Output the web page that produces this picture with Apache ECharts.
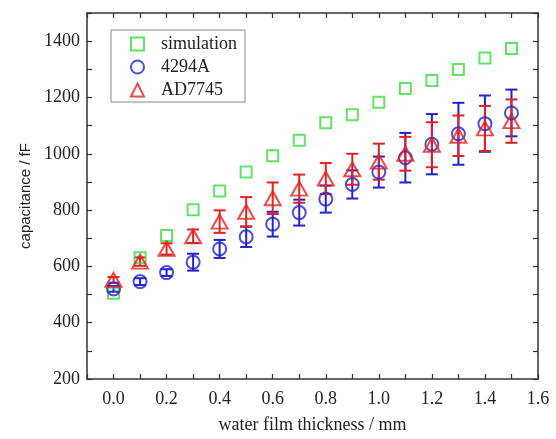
<!DOCTYPE html>
<html>
<head>
<meta charset="utf-8">
<script src="https://cdn.jsdelivr.net/npm/echarts@6/dist/echarts.min.js"></script>
<style>
  html, body { margin: 0; padding: 0; background: #fff; }
  #main { width: 556px; height: 439px; }
</style>
</head>
<body>
<div id="main"></div>
<script>
var chart = echarts.init(document.getElementById('main'));

var thickness = [0.0, 0.1, 0.2, 0.3, 0.4, 0.5, 0.6, 0.7, 0.8, 0.9, 1.0, 1.1, 1.2, 1.3, 1.4, 1.5];
var simulation = [505, 631, 710, 801, 868, 935, 993, 1048, 1110, 1139, 1183, 1232, 1260, 1299, 1340, 1374];
var hp4294 = [520, 546, 578, 615, 662, 705, 750, 791, 839, 891, 935, 986, 1034, 1071, 1107, 1145];
var hp4294Err = [10, 12, 12, 30, 32, 36, 44, 46, 48, 50, 55, 88, 107, 110, 100, 83];
var ad7745 = [552, 617, 662, 707, 759, 794, 842, 876, 912, 945, 972, 1000, 1032, 1064, 1090, 1116];
var ad7745Err = [10, 15, 20, 24, 40, 52, 56, 50, 55, 55, 64, 60, 80, 72, 80, 77];

var GREEN = '#3cdc3c', BLUE = '#2222d0', RED = '#e42020';
var serif = '"Liberation Serif", "DejaVu Serif", serif';

var pairs = function (ys) {
    var res = [];
    for (var i = 0; i < thickness.length; i++) res.push([thickness[i], ys[i]]);
    return res;
};
var triples = function (ys, errs) {
    var res = [];
    for (var i = 0; i < thickness.length; i++) res.push([thickness[i], ys[i], errs[i]]);
    return res;
};

// vertical error bar with caps, drawn through the axis scales
var errorBars = function (name, color, ys, errs) {
    return {
        name: name,
        type: 'custom',
        data: triples(ys, errs),
        silent: true,
        renderItem: function (params, api) {
            var x = api.value(0), y = api.value(1), e = api.value(2);
            var top = api.coord([x, y + e]);
            var bot = api.coord([x, y - e]);
            var half = 6;
            var style = { stroke: color, lineWidth: 2 };
            return {
                type: 'group',
                children: [
                    { type: 'line', shape: { x1: top[0], y1: top[1], x2: bot[0], y2: bot[1] }, style: style },
                    { type: 'line', shape: { x1: top[0] - half, y1: top[1], x2: top[0] + half, y2: top[1] }, style: style },
                    { type: 'line', shape: { x1: bot[0] - half, y1: bot[1], x2: bot[0] + half, y2: bot[1] }, style: style }
                ]
            };
        }
    };
};

var xLabel = function (v) {
    var k = Math.round(v * 10);
    return (k >= 0 && k % 2 === 0) ? (k / 10).toFixed(1) : '';
};
var yLabel = function (v) {
    return (Math.round(v) % 200 === 0 && v < 1450) ? String(Math.round(v)) : '';
};

var axisLine = { onZero: false, lineStyle: { color: '#333', width: 1.5 } };
var tick = { inside: true, length: 5, lineStyle: { color: '#333', width: 1.2 } };

var option = {
    backgroundColor: '#fff',
    animation: false,
    grid: { left: 87, right: 18, top: 13, bottom: 58, containLabel: false },
    legend: {
        orient: 'vertical',
        left: 111,
        top: 30,
        padding: [5, 8, 3, 19],
        itemGap: 5,
        itemWidth: 13,
        itemHeight: 13,
        itemStyle: { borderWidth: 2 },
        borderColor: '#888',
        borderWidth: 1,
        data: ['simulation', '4294A', 'AD7745'],
        textStyle: { fontFamily: serif, fontSize: 18, color: '#222', padding: [0, 0, 0, 12] }
    },
    xAxis: [
        {
            type: 'value', min: -0.1, max: 1.6, interval: 0.1,
            name: 'water film thickness / mm', nameLocation: 'middle', nameGap: 37,
            nameTextStyle: { fontFamily: serif, fontSize: 18, color: '#222' },
            axisLine: axisLine, axisTick: tick, splitLine: { show: false },
            axisLabel: { formatter: xLabel, fontFamily: serif, fontSize: 18, color: '#222', margin: 11 }
        },
        {
            type: 'value', position: 'top', min: -0.1, max: 1.6, interval: 0.1,
            axisLine: axisLine, axisTick: tick, splitLine: { show: false },
            axisLabel: { show: false }
        }
    ],
    yAxis: [
        {
            type: 'value', min: 200, max: 1500, interval: 100,
            name: 'capacitance / fF', nameLocation: 'middle', nameGap: 52, nameRotate: 90,
            nameTextStyle: { fontFamily: '"Liberation Sans", Arial, sans-serif', fontSize: 15, color: '#222' },
            axisLine: axisLine, axisTick: tick, splitLine: { show: false },
            axisLabel: { formatter: yLabel, fontFamily: serif, fontSize: 18, color: '#222', margin: 7 }
        },
        {
            type: 'value', position: 'right', min: 200, max: 1500, interval: 100,
            axisLine: axisLine, axisTick: tick, splitLine: { show: false },
            axisLabel: { show: false }
        }
    ],
    series: [
        {
            name: 'simulation', type: 'scatter', symbol: 'rect', symbolSize: 11,
            itemStyle: { color: 'rgba(0,0,0,0)', borderColor: GREEN, borderWidth: 2 },
            data: pairs(simulation), z: 3
        },
        errorBars('4294A err', BLUE, hp4294, hp4294Err),
        {
            name: '4294A', type: 'scatter', symbol: 'circle', symbolSize: 13,
            itemStyle: { color: 'rgba(0,0,0,0)', borderColor: BLUE, borderWidth: 2 },
            data: pairs(hp4294), z: 3
        },
        errorBars('AD7745 err', RED, ad7745, ad7745Err),
        {
            name: 'AD7745', type: 'scatter', symbol: 'triangle', symbolSize: [16, 14],
            itemStyle: { color: 'rgba(0,0,0,0)', borderColor: RED, borderWidth: 2 },
            data: pairs(ad7745), z: 3
        }
    ]
};
chart.setOption(option);
</script>
</body>
</html>
